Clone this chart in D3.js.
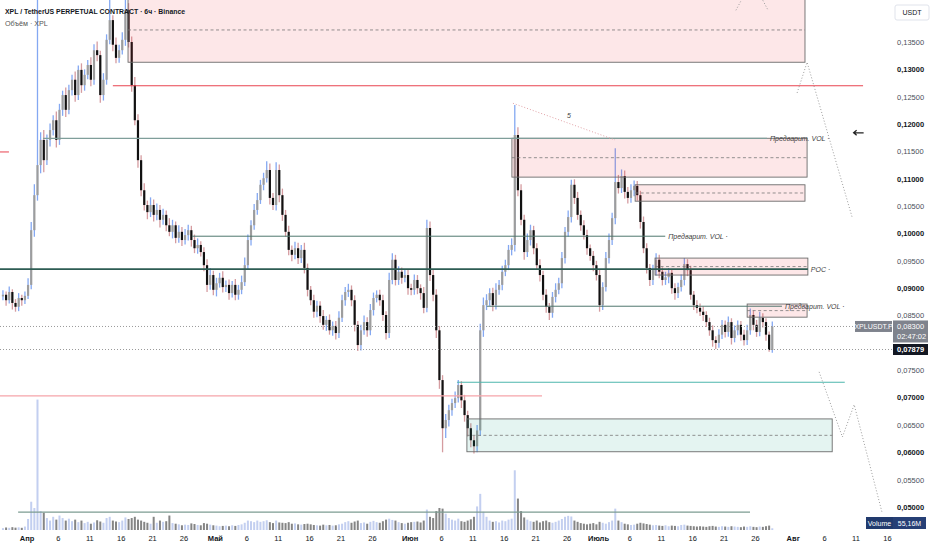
<!DOCTYPE html>
<html>
<head>
<meta charset="utf-8">
<script src="https://cdn.jsdelivr.net/npm/d3@7"></script>
<style>
body { margin: 0; background: #fff; }
svg { display: block; font-family: "Liberation Sans", Arial, sans-serif; }
</style>
</head>
<body>
<div id="chart"></div>
<script>
var width = 932,
    height = 550,
    plotW = 893,
    plotH = 530;

// 12h bars, starting Mar 28 2025 00:00 UTC, open = previous close
var startTime = "2025-03-28T00:00Z";
var firstOpen = 0.0885;

var closes = [
  0.0888,0.0878,0.0893,0.0873,0.0866,0.0882,0.0878,0.0886,0.0906,0.1006,
  0.1070,0.1125,0.1171,0.1134,0.1171,0.1189,0.1207,0.1171,0.1226,0.1253,
  0.1226,0.1262,0.1281,0.1253,0.1299,0.1271,0.1290,0.1308,0.1281,0.1335,
  0.1326,0.1253,0.1281,0.1354,0.1390,0.1345,0.1321,0.1335,0.1354,0.1409,
  0.1350,0.1271,0.1207,0.1134,0.1079,0.1052,0.1039,0.1052,0.1034,0.1043,
  0.1025,0.1034,0.1015,0.1003,0.1015,0.0992,0.1003,0.0988,0.0997,0.1006,
  0.0988,0.0973,0.0979,0.0966,0.0942,0.0906,0.0924,0.0897,0.0909,0.0919,
  0.0902,0.0906,0.0891,0.0906,0.0888,0.0897,0.0911,0.0942,0.0988,0.1015,
  0.1043,0.1061,0.1089,0.1101,0.1116,0.1065,0.1052,0.1116,0.1070,0.1034,
  0.1003,0.0970,0.0961,0.0973,0.0955,0.0970,0.0937,0.0897,0.0878,0.0857,
  0.0868,0.0849,0.0833,0.0842,0.0823,0.0831,0.0818,0.0846,0.0878,0.0893,
  0.0897,0.0878,0.0833,0.0796,0.0823,0.0838,0.0823,0.0860,0.0882,0.0888,
  0.0878,0.0851,0.0818,0.0915,0.0952,0.0915,0.0930,0.0919,0.0924,0.0900,
  0.0897,0.0915,0.0900,0.0891,0.0864,0.1010,0.0924,0.0888,0.0823,0.0732,
  0.0644,0.0659,0.0677,0.0690,0.0699,0.0723,0.0695,0.0668,0.0644,0.0622,
  0.0611,0.0640,0.0823,0.0869,0.0878,0.0891,0.0869,0.0897,0.0906,0.0930,
  0.0942,0.0970,0.0979,0.1180,0.1079,0.1025,0.0966,0.0988,0.1006,0.0973,
  0.0942,0.0924,0.0888,0.0866,0.0855,0.0884,0.0897,0.0909,0.0955,0.1003,
  0.1030,0.1089,0.1065,0.1034,0.1015,0.0997,0.0973,0.0959,0.0942,0.0924,
  0.0869,0.0902,0.0955,0.0988,0.1028,0.1094,0.1083,0.1105,0.1076,0.1065,
  0.1079,0.1087,0.1070,0.1021,0.0973,0.0937,0.0915,0.0933,0.0952,0.0930,
  0.0915,0.0920,0.0928,0.0900,0.0891,0.0902,0.0915,0.0944,0.0933,0.0888,
  0.0869,0.0864,0.0857,0.0851,0.0838,0.0823,0.0805,0.0800,0.0815,0.0833,
  0.0820,0.0838,0.0809,0.0823,0.0833,0.0815,0.0805,0.0823,0.0851,0.0833,
  0.0820,0.0846,0.0838,0.0815,0.0787,0.0830
];

// wick lengths above / below the body, in units of 0.0001
var wickHi = [
  8,6,10,5,7,9,6,8,12,15,
  20,325,14,18,10,12,9,16,11,8,
  14,10,9,15,8,12,10,9,14,11,
  16,8,12,10,40,9,13,10,14,25,
  12,10,15,11,9,13,8,14,10,12,
  9,11,8,13,10,7,12,9,11,10,
  8,10,12,7,9,11,13,8,10,9,
  12,8,10,7,11,9,12,14,10,9,
  11,13,9,10,16,12,9,14,10,12,
  9,11,8,12,10,9,13,8,7,10,
  9,8,11,7,10,8,9,12,10,9,
  11,8,9,7,10,12,9,11,10,8,
  9,10,7,13,12,9,10,8,11,9,
  8,10,9,7,11,15,12,9,10,8,
  9,11,10,8,12,9,7,10,8,9,
  8,10,12,14,11,9,10,12,9,11,
  10,9,12,55,14,11,9,12,10,8,
  9,11,8,10,7,9,12,10,11,9,
  12,9,10,11,8,9,10,7,9,8,
  10,9,11,12,10,62,13,12,10,9,
  11,10,9,8,10,9,7,10,12,9,
  8,10,9,7,9,8,10,11,9,8,
  7,9,8,10,7,8,9,7,10,9,
  8,10,7,9,8,7,9,10,12,8,
  9,11,8,7,6,9
];
var wickLo = [
  7,10,6,12,9,8,10,7,6,8,
  12,10,15,22,9,12,10,14,9,11,
  13,8,10,12,9,14,10,8,12,9,
  11,14,10,9,8,12,10,9,8,11,
  10,12,9,14,11,10,13,9,12,10,
  14,9,11,8,12,10,9,11,8,10,
  12,9,10,8,11,13,9,10,12,8,
  10,9,12,8,10,9,8,7,9,10,
  8,9,7,10,8,12,9,10,13,11,
  9,10,12,8,11,9,10,12,9,11,
  10,12,9,11,8,10,12,9,8,10,
  9,11,12,11,10,8,12,9,10,8,
  10,11,12,9,8,10,9,11,8,12,
  10,9,11,12,10,8,11,12,14,16,
  44,18,12,10,9,8,14,12,15,13,
  13,11,10,12,9,10,11,8,9,10,
  8,9,10,12,11,10,14,9,10,11,
  9,12,10,11,13,9,10,8,9,10,
  9,10,11,9,10,8,12,9,11,10,
  12,9,8,10,9,11,10,9,12,10,
  9,11,10,12,9,10,11,9,10,12,
  10,9,11,10,12,9,8,10,11,9,
  9,10,8,11,9,10,12,11,9,8,
  10,9,12,8,9,11,10,9,8,10,
  9,8,10,11,3,5
];

// volume per bar, millions XPL
var volumes = [
  60,80,70,90,75,85,70,110,350,900,
  700,4150,600,550,380,300,420,330,460,380,
  300,360,280,330,250,300,220,260,200,240,
  310,270,230,380,420,300,270,250,300,400,
  350,380,420,330,300,260,230,200,420,230,
  300,260,280,460,220,200,180,150,170,160,
  210,190,160,150,220,200,170,150,140,120,
  130,140,120,150,130,160,180,230,300,280,
  250,300,260,280,310,250,220,300,240,230,
  220,250,200,210,180,170,190,200,180,160,
  150,140,170,150,160,140,150,180,200,250,
  280,230,270,300,220,240,200,260,290,250,
  230,280,330,360,320,300,250,220,200,230,
  250,260,270,240,300,650,420,380,600,700,
  680,520,380,330,300,360,280,260,300,340,
  420,750,1150,580,420,300,260,280,240,300,
  280,330,360,1900,1000,600,400,330,280,260,
  300,240,280,300,250,230,260,300,350,420,
  450,430,300,260,220,200,180,200,220,180,
  260,230,200,250,300,680,300,250,200,180,
  160,170,200,230,210,190,170,150,160,140,
  130,150,120,140,130,120,160,170,140,130,
  120,110,120,110,100,120,130,110,100,120,
  110,100,120,110,100,90,110,100,120,100,
  90,110,100,120,140,55.16
];

var priceTicks = [0.050, 0.055, 0.060, 0.065, 0.070, 0.075, 0.085, 0.090, 0.095,
                  0.100, 0.105, 0.110, 0.115, 0.120, 0.125, 0.130, 0.135];

var dateTicks = ["2025-04-01","2025-04-06","2025-04-11","2025-04-16","2025-04-21","2025-04-26",
                 "2025-05-01","2025-05-06","2025-05-11","2025-05-16","2025-05-21","2025-05-26",
                 "2025-06-01","2025-06-06","2025-06-11","2025-06-16","2025-06-21","2025-06-26",
                 "2025-07-01","2025-07-06","2025-07-11","2025-07-16","2025-07-21","2025-07-26",
                 "2025-08-01","2025-08-06","2025-08-11","2025-08-16"];
var dateLabels = ["Апр","6","11","16","21","26",
                  "Май","6","11","16","21","26",
                  "Июн","6","11","16","21","26",
                  "Июль","6","11","16","21","26",
                  "Авг","6","11","16"];
var monthLabels = ["Апр","Май","Июн","Июль","Авг"];

// drawn zones: start, end, top price, bottom price, kind
var zones = [
  ["2025-04-17T04:00Z", "2025-08-02T23:00Z", 0.1431, 0.1313, "sell"],
  ["2025-06-17T07:00Z", "2025-08-03T07:00Z", 0.1174, 0.1103, "sell"],
  ["2025-07-06T22:00Z", "2025-08-02T23:00Z", 0.1089, 0.1059, "sell"],
  ["2025-07-10T02:00Z", "2025-08-03T10:00Z", 0.0955, 0.0924, "sell"],
  ["2025-07-24T18:00Z", "2025-08-03T07:00Z", 0.0871, 0.0847, "sell"],
  ["2025-06-10T03:00Z", "2025-08-07T07:00Z", 0.0661, 0.0601, "buy"]
];

// drawn horizontal levels: start, end, price, kind, label
var levels = [
  ["2025-04-14T18:00Z", "2025-08-12T05:00Z", 0.1270, "red", ""],
  ["2025-03-27T00:00Z", "2025-03-29T05:00Z", 0.1149, "red", ""],
  ["2025-04-03T15:00Z", "2025-07-27T22:00Z", 0.1174, "volLight", "Предварит. VOL"],
  ["2025-04-27T08:00Z", "2025-07-11T17:00Z", 0.0995, "vol", "Предварит. VOL"],
  ["2025-03-27T00:00Z", "2025-08-03T10:00Z", 0.0935, "poc", "POC"],
  ["2025-06-13T07:00Z", "2025-07-30T07:00Z", 0.0867, "vol", "Предварит. VOL"],
  ["2025-06-08T13:00Z", "2025-08-09T07:00Z", 0.0728, "teal", ""],
  ["2025-03-27T00:00Z", "2025-06-22T02:00Z", 0.0703, "pink", ""]
];

// dotted projection paths [date, price]
var paths = [
  {kind: "pink", pts: [["2025-06-17T11:00Z", 0.1238], ["2025-07-03T17:00Z", 0.1171]]},
  {kind: "grey", pts: [["2025-07-22T23:00Z", 0.1408], ["2025-07-25T13:00Z", 0.1463], ["2025-07-28T02:00Z", 0.1408]]},
  {kind: "grey", pts: [["2025-08-01T17:00Z", 0.1257], ["2025-08-03T07:00Z", 0.1313], ["2025-08-10T11:00Z", 0.1030]]},
  {kind: "grey", pts: [["2025-08-05T05:00Z", 0.0747], ["2025-08-08T22:00Z", 0.0628], ["2025-08-10T19:00Z", 0.0687], ["2025-08-15T05:00Z", 0.0491]]}
];
var notes = [["2025-06-26T02:00Z", 0.1216, "5"]];
var arrowAt = ["2025-08-11T12:00Z", 0.1184];
var volLevel = ["2025-03-30T16:00Z", "2025-07-25T05:00Z", 570];

var lastPrice = 0.0830,
    markPrice = 0.07879,
    lastVolume = "55,16M",
    countdown = "02:47:02";

var step = 12 * 3600 * 1000,
    t0 = new Date(startTime).getTime();

var bars = closes.map(function (c, i) {
    var o = i === 0 ? firstOpen : closes[i - 1];
    return {
        t: new Date(t0 + i * step + step / 2),
        o: o, c: c,
        h: Math.max(o, c) + (wickHi[i] || 0) / 1e4,
        l: Math.min(o, c) - (wickLo[i] || 0) / 1e4,
        v: volumes[i] || 0
    };
});

var x = d3.scaleUtc()
    .domain([new Date("2025-04-01T00:00Z"), new Date("2025-07-01T00:00Z")])
    .range([26.5, 598]);
var y = d3.scaleLinear().domain([0.05, 0.135]).range([507, 42]);
var vy = d3.scaleLinear().domain([0, 4200]).range([plotH, 398]);

var fmtPrice = function (d) { return d3.format(".5f")(d).replace(".", ","); };
var font = '"Liberation Sans", Arial, sans-serif';

var svg = d3.select("#chart").append("svg")
    .attr("width", width)
    .attr("height", height);

svg.append("rect").attr("width", width).attr("height", height).attr("fill", "#fff");
svg.append("defs").append("clipPath").attr("id", "plotclip")
    .append("rect").attr("width", plotW).attr("height", plotH);

var plot = svg.append("g").attr("clip-path", "url(#plotclip)");

// volume
plot.selectAll(".vol").data(bars).enter().append("rect")
    .attr("class", "vol")
    .attr("x", function (d) { return x(d.t) - 1; })
    .attr("width", 2)
    .attr("y", function (d) { return vy(d.v); })
    .attr("height", function (d) { return plotH - vy(d.v); })
    .attr("fill", function (d) { return d.c >= d.o ? "#c3cff0" : "#858585"; });

plot.append("line")
    .attr("x1", x(new Date(volLevel[0]))).attr("x2", x(new Date(volLevel[1])))
    .attr("y1", vy(volLevel[2])).attr("y2", vy(volLevel[2]))
    .attr("stroke", "#7c9c92").attr("stroke-width", 1.2);

// candles
plot.selectAll(".wick").data(bars).enter().append("line")
    .attr("class", "wick")
    .attr("x1", function (d) { return x(d.t); })
    .attr("x2", function (d) { return x(d.t); })
    .attr("y1", function (d) { return y(d.h); })
    .attr("y2", function (d) { return y(d.l); })
    .attr("stroke", function (d) { return d.c >= d.o ? "#84a8f2" : "#d59ca0"; })
    .attr("stroke-width", 1.3);

plot.selectAll(".body").data(bars).enter().append("rect")
    .attr("class", "body")
    .attr("x", function (d) { return x(d.t) - 1.1; })
    .attr("width", 2.2)
    .attr("y", function (d) { return y(Math.max(d.o, d.c)); })
    .attr("height", function (d) { return Math.max(1, Math.abs(y(d.o) - y(d.c))); })
    .attr("fill", function (d) { return d.c >= d.o ? "#9d9d9d" : "#111"; });

// zones
var zoneG = plot.selectAll(".zone").data(zones).enter().append("g");
zoneG.append("rect")
    .attr("x", function (d) { return x(new Date(d[0])); })
    .attr("width", function (d) { return x(new Date(d[1])) - x(new Date(d[0])); })
    .attr("y", function (d) { return y(d[2]); })
    .attr("height", function (d) { return y(d[3]) - y(d[2]); })
    .attr("fill", function (d) { return d[4] === "buy" ? "rgba(8,153,129,0.11)" : "rgba(242,54,69,0.12)"; })
    .attr("stroke", "#6b6b6b")
    .attr("stroke-width", 0.9);
zoneG.append("line")
    .attr("x1", function (d) { return x(new Date(d[0])); })
    .attr("x2", function (d) { return x(new Date(d[1])); })
    .attr("y1", function (d) { return y((d[2] + d[3]) / 2); })
    .attr("y2", function (d) { return y((d[2] + d[3]) / 2); })
    .attr("stroke", "#777")
    .attr("stroke-width", 0.8)
    .attr("stroke-dasharray", "3,2.5");

// levels
var levelStyle = {
    red: ["#e8434f", 1],
    vol: ["#4f776e", 1],
    volLight: ["#7f9e9a", 1.3],
    poc: ["#2d5c53", 1.8],
    teal: ["#4db6ac", 1.1],
    pink: ["#f6a4aa", 1.3]
};
plot.selectAll(".level").data(levels).enter().append("line")
    .attr("x1", function (d) { return x(new Date(d[0])); })
    .attr("x2", function (d) { return x(new Date(d[1])); })
    .attr("y1", function (d) { return y(d[2]); })
    .attr("y2", function (d) { return y(d[2]); })
    .attr("stroke", function (d) { return levelStyle[d[3]][0]; })
    .attr("stroke-width", function (d) { return levelStyle[d[3]][1]; });

plot.selectAll(".lvlabel").data(levels.filter(function (d) { return d[4]; })).enter().append("text")
    .attr("x", function (d) { return x(new Date(d[1])) + 3; })
    .attr("y", function (d) { return y(d[2]) + 2.5; })
    .attr("font-size", 7)
    .attr("font-style", "italic")
    .attr("font-family", font)
    .attr("fill", "#3d3d3d")
    .text(function (d) { return d[4] + " ·"; });

// current / mark price lines
plot.append("line")
    .attr("x1", 0).attr("x2", 855)
    .attr("y1", y(lastPrice)).attr("y2", y(lastPrice))
    .attr("stroke", "#9a9a9a").attr("stroke-dasharray", "1,2");
plot.append("line")
    .attr("x1", 0).attr("x2", plotW)
    .attr("y1", y(markPrice)).attr("y2", y(markPrice))
    .attr("stroke", "#9a9a9a").attr("stroke-dasharray", "1,2");

// projections
var line = d3.line()
    .x(function (p) { return x(new Date(p[0])); })
    .y(function (p) { return y(p[1]); });
plot.selectAll(".proj").data(paths).enter().append("path")
    .attr("d", function (d) { return line(d.pts); })
    .attr("fill", "none")
    .attr("stroke", function (d) { return d.kind === "pink" ? "#e2a2a7" : "#9d9d9d"; })
    .attr("stroke-width", 1)
    .attr("stroke-dasharray", "1,2");

plot.selectAll(".note").data(notes).enter().append("text")
    .attr("x", function (d) { return x(new Date(d[0])); })
    .attr("y", function (d) { return y(d[1]) + 2.5; })
    .attr("font-size", 7)
    .attr("font-style", "italic")
    .attr("font-family", font)
    .attr("fill", "#444")
    .text(function (d) { return d[2]; });

var ax = x(new Date(arrowAt[0])), ay = y(arrowAt[1]);
plot.append("path")
    .attr("d", "M" + (ax + 5) + "," + ay + "H" + (ax - 5) + "M" + (ax - 2) + "," + (ay - 2.5) + "L" + (ax - 5) + "," + ay + "L" + (ax - 2) + "," + (ay + 2.5))
    .attr("fill", "none").attr("stroke", "#222").attr("stroke-width", 1.3);

// axes
var yAxis = d3.axisRight(y).tickValues(priceTicks).tickSize(0).tickPadding(4).tickFormat(fmtPrice);
var yg = svg.append("g").attr("transform", "translate(" + plotW + ",0)").call(yAxis);
yg.select(".domain").remove();
yg.selectAll("text")
    .attr("font-size", 7.5)
    .attr("font-family", font)
    .attr("fill", function (d) { return Math.round(d * 1000) % 10 === 0 ? "#131722" : "#4b4f5a"; })
    .attr("font-weight", function (d) { return Math.round(d * 1000) % 10 === 0 ? "bold" : "normal"; });

var xAxis = d3.axisBottom(x)
    .tickValues(dateTicks.map(function (d) { return new Date(d + "T00:00Z"); }))
    .tickSize(0).tickPadding(6)
    .tickFormat(function (d, i) { return dateLabels[i]; });
var xg = svg.append("g").attr("transform", "translate(0," + plotH + ")").call(xAxis);
xg.select(".domain").remove();
xg.selectAll("text")
    .attr("font-size", 7.5)
    .attr("font-family", font)
    .attr("fill", "#131722")
    .attr("font-weight", function (d, i) { return monthLabels.indexOf(dateLabels[i]) >= 0 ? "bold" : "normal"; });

// header
svg.append("text").attr("x", 5).attr("y", 14)
    .attr("font-size", 6.9).attr("font-weight", "bold").attr("font-family", font).attr("fill", "#131722")
    .text("XPL / TetherUS PERPETUAL CONTRACT · 6ч · Binance");
svg.append("text").attr("x", 5).attr("y", 26)
    .attr("font-size", 7.2).attr("font-family", font).attr("fill", "#555")
    .text("Объём · XPL");

// axis badges
svg.append("rect").attr("x", 895).attr("y", 5).attr("width", 34).attr("height", 15).attr("rx", 2)
    .attr("fill", "#fff").attr("stroke", "#e0e3eb");
svg.append("text").attr("x", 912).attr("y", 15).attr("text-anchor", "middle")
    .attr("font-size", 7).attr("font-family", font).attr("fill", "#131722").text("USDT");

var ly = y(lastPrice);
svg.append("rect").attr("x", 855).attr("y", ly - 5.5).attr("width", 37).attr("height", 11).attr("fill", "#7f838d");
svg.append("text").attr("x", 873.5).attr("y", ly + 2.5).attr("text-anchor", "middle")
    .attr("font-size", 7).attr("font-family", font).attr("fill", "#fff").text("XPLUSDT.P");
svg.append("rect").attr("x", 893).attr("y", ly - 6).attr("width", 35).attr("height", 22).attr("fill", "#7f838d");
svg.append("text").attr("x", 897).attr("y", ly + 2.5)
    .attr("font-size", 7.5).attr("font-family", font).attr("fill", "#fff").text(fmtPrice(lastPrice));
svg.append("text").attr("x", 897).attr("y", ly + 12.5)
    .attr("font-size", 7.5).attr("font-family", font).attr("fill", "#fff").text(countdown);

var my = y(markPrice);
svg.append("rect").attr("x", 893).attr("y", my - 5.5).attr("width", 35).attr("height", 11).attr("fill", "#131722");
svg.append("text").attr("x", 897).attr("y", my + 2.7)
    .attr("font-size", 7.5).attr("font-weight", "bold").attr("font-family", font).attr("fill", "#fff").text(fmtPrice(markPrice));

svg.append("rect").attr("x", 866).attr("y", 517).attr("width", 27).attr("height", 12).attr("fill", "#213a6d");
svg.append("text").attr("x", 879.5).attr("y", 525.5).attr("text-anchor", "middle")
    .attr("font-size", 7).attr("font-family", font).attr("fill", "#fff").text("Volume");
svg.append("rect").attr("x", 893).attr("y", 517).attr("width", 33).attr("height", 12).attr("fill", "#263f75");
svg.append("text").attr("x", 909.5).attr("y", 525.5).attr("text-anchor", "middle")
    .attr("font-size", 7).attr("font-family", font).attr("fill", "#fff").text(lastVolume);
</script>
</body>
</html>
